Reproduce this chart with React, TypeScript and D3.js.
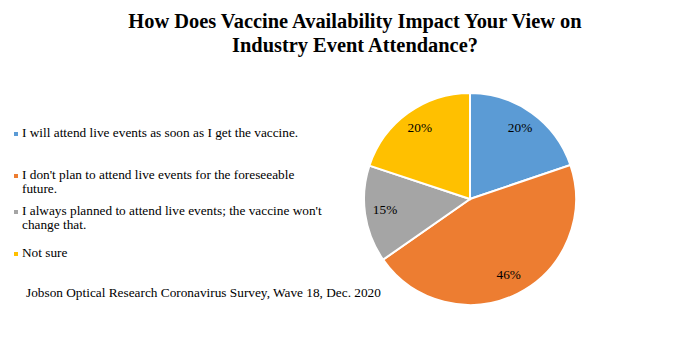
import React from "react";
import * as d3 from "d3";

const categories = [
  "I will attend live events as soon as I get the vaccine.",
  "I don't plan to attend live events for the foreseeable future.",
  "I always planned to attend live events; the vaccine won't change that.",
  "Not sure",
];
const legendLines = [
  ["I will attend live events as soon as I get the vaccine."],
  ["I don't plan to attend live events for the foreseeable", "future."],
  ["I always planned to attend live events; the vaccine won't", "change that."],
  ["Not sure"],
];
const values = [19.8, 45.5, 14.8, 19.9];
const colors = ["#5B9BD5", "#ED7D31", "#A5A5A5", "#FFC000"];
const titleLines = [
  "How Does Vaccine Availability Impact Your View on",
  "Industry Event Attendance?",
];
const source = "Jobson Optical Research Coronavirus Survey, Wave 18, Dec. 2020";

const W = 700;
const H = 337;
const cx = 470;
const cy = 199;
const R = 106;
const legendY = [137, 179, 215, 257];

export default function App() {
  const pie = d3.pie<number>().sort(null).value((d) => d)(values);
  const arc = d3.arc<d3.PieArcDatum<number>>().innerRadius(0).outerRadius(R);
  const labelArc = d3
    .arc<d3.PieArcDatum<number>>()
    .innerRadius(R * 0.81)
    .outerRadius(R * 0.81);
  const font = "'Liberation Serif', 'Times New Roman', serif";
  return (
    <svg
      width={W}
      height={H}
      style={{ position: "absolute", left: 0, top: 0, background: "#fff" }}
      fontFamily={font}
    >
      <rect width={W} height={H} fill="#fff" />
      {titleLines.map((t, i) => (
        <text
          key={i}
          x={355}
          y={28 + i * 24}
          textAnchor="middle"
          fontWeight="bold"
          fontSize={20.4}
          fill="#000"
        >
          {t}
        </text>
      ))}
      <g transform={`translate(${cx},${cy})`}>
        {pie.map((p, i) => (
          <path
            key={i}
            d={arc(p) || ""}
            fill={colors[i]}
            stroke="#fff"
            strokeWidth={2}
          />
        ))}
        {pie.map((p, i) => {
          const [x, y] = labelArc.centroid(p);
          return (
            <text
              key={"l" + i}
              x={x}
              y={y}
              textAnchor="middle"
              dominantBaseline="middle"
              fontSize={13.3}
              fill="#000"
            >
              {Math.round(values[i])}%
            </text>
          );
        })}
      </g>
      {categories.map((c, i) => (
        <g key={c}>
          <rect x={14} y={legendY[i] - 5} width={4} height={4} fill={colors[i]} />
          {legendLines[i].map((l, j) => (
            <text key={j} x={22} y={legendY[i] + j * 14} fontSize={13.3} fill="#000">
              {l}
            </text>
          ))}
        </g>
      ))}
      <text x={26} y={297} fontSize={13.3} fill="#000">
        {source}
      </text>
    </svg>
  );
}
